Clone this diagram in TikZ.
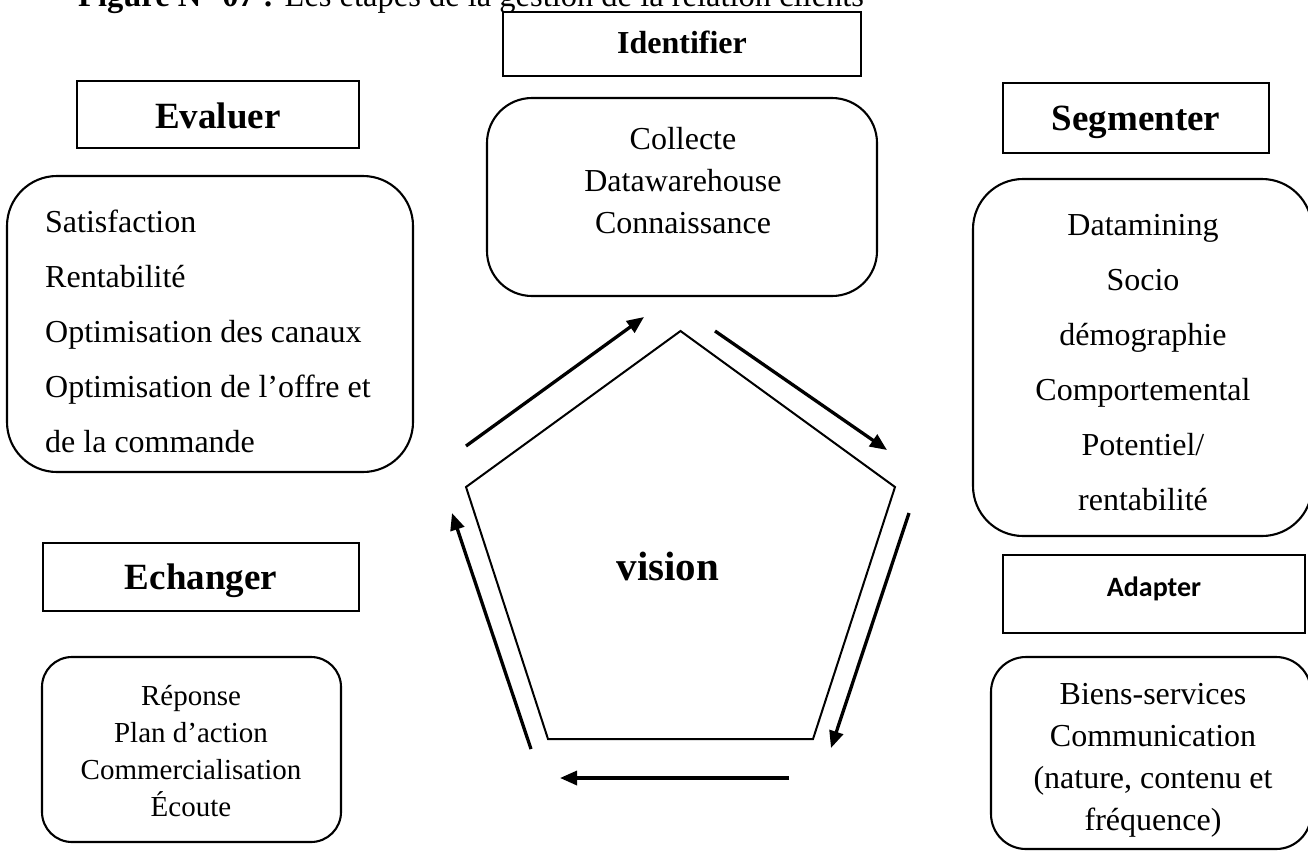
\documentclass[tikz,border=0pt]{standalone}
\usepackage{fontspec}
\setmainfont{Liberation Serif}
\newfontfamily\calibrifont{Carlito}
\usetikzlibrary{arrows.meta}

\begin{document}
\begin{tikzpicture}[x=1pt,y=-1pt,
  frame/.style={draw, line width=2.5pt, rectangle, inner sep=0pt, outer sep=0pt},
  rbox/.style={draw, line width=2.1pt, rectangle, rounded corners=#1, inner sep=0pt, outer sep=0pt},
  head/.style={font=\bfseries\fontsize{37}{44}\selectfont, anchor=base},
  smallhead/.style={font=\bfseries\fontsize{32}{38}\selectfont, anchor=base},
  body/.style={font=\fontsize{32}{38}\selectfont, inner sep=0pt},
  bodysm/.style={font=\fontsize{29}{34}\selectfont, inner sep=0pt, anchor=base},
  flow/.style={line width=3.3pt, -{Triangle[length=17pt,width=14pt]}}
]
\useasboundingbox (0,0) rectangle (1308,852);
\clip (0,0) rectangle (1308,852);

% caption, only its lower part lies inside the page
\node[font=\fontsize{32.5}{38}\selectfont, anchor=base west, inner sep=0pt] (caption) at (78,6)
  {\textbf{Figure N° 07 :} Les étapes de la gestion de la relation clients};

% title frames
\node[frame, minimum width=358, minimum height=64] (identF) at (682,44) {};
\node[frame, minimum width=282, minimum height=67] (evalF) at (218,114.5) {};
\node[frame, minimum width=266, minimum height=70] (segF) at (1136,118) {};
\node[frame, minimum width=316, minimum height=68] (echF) at (201,577) {};
\node[frame, minimum width=302, minimum height=78] (adaF) at (1154,594) {};

\node[smallhead] (identT) at (682,53) {Identifier};
\node[head] (evalT) at (218,128) {Evaluer};
\node[head] (segT) at (1136,130) {Segmenter};
\node[head] (echT) at (201,589) {Echanger};
\node[font=\calibrifont\bfseries\fontsize{28}{34}\selectfont, anchor=base] (adaT) at (1154,596) {Adapter};

% content boxes
\node[rbox=45, minimum width=390, minimum height=198] (identB) at (682,197) {};
\node[rbox=50, minimum width=406, minimum height=296] (evalB) at (210,324) {};
\node[rbox=50, minimum width=339, minimum height=357] (segB) at (1142.5,357.5) {};
\node[rbox=30, minimum width=299, minimum height=185] (echB) at (191.5,749.5) {};
\node[rbox=35, minimum width=320, minimum height=192] (adaB) at (1151,753) {};

% content texts
\foreach \t [count=\i] in {Collecte, Datawarehouse, Connaissance}
  \node[body, anchor=base] (id-\i) at (683,{149+42*(\i-1)}) {\t};
\foreach \t [count=\i] in {Satisfaction, Rentabilité, Optimisation des canaux, Optimisation de l’offre et, de la commande}
  \node[body, anchor=base west] (ev-\i) at (45,{232+55*(\i-1)}) {\t};
\foreach \t [count=\i] in {Datamining, Socio, démographie, Comportemental, Potentiel/, rentabilité}
  \node[body, anchor=base] (sg-\i) at (1143,{235+55*(\i-1)}) {\t};
\foreach \t [count=\i] in {Réponse, Plan d’action, Commercialisation, Écoute}
  \node[bodysm] (ec-\i) at (191,{705+37*(\i-1)}) {\t};
\foreach \t [count=\i] in {Biens-services, Communication, {(nature, contenu et}, fréquence)}
  \node[body, anchor=base] (ad-\i) at (1153,{704+42*(\i-1)}) {\t};

% central pentagon
\coordinate (p1) at (680.5,331);
\coordinate (p2) at (895,487);
\coordinate (p3) at (813,739);
\coordinate (p4) at (548,739);
\coordinate (p5) at (466,487);
\draw[line width=2pt, line join=miter] (p1) -- (p2) -- (p3) -- (p4) -- (p5) -- cycle;
\node[font=\bfseries\fontsize{41}{48}\selectfont, anchor=base] (vision) at (668,580) {vision};

% cycle arrows
\coordinate (a1s) at (466,446);  \coordinate (a1e) at (644,317);
\coordinate (a2s) at (715,331);  \coordinate (a2e) at (887,450);
\coordinate (a3s) at (909,513);  \coordinate (a3e) at (831,748);
\coordinate (a4s) at (789,778);  \coordinate (a4e) at (560,778);
\coordinate (a5s) at (531,749);  \coordinate (a5e) at (452,513);
\draw[flow] (a1s) -- (a1e);
\draw[flow] (a2s) -- (a2e);
\draw[flow] (a3s) -- (a3e);
\draw[flow] (a4s) -- (a4e);
\draw[flow] (a5s) -- (a5e);
\end{tikzpicture}
\end{document}
